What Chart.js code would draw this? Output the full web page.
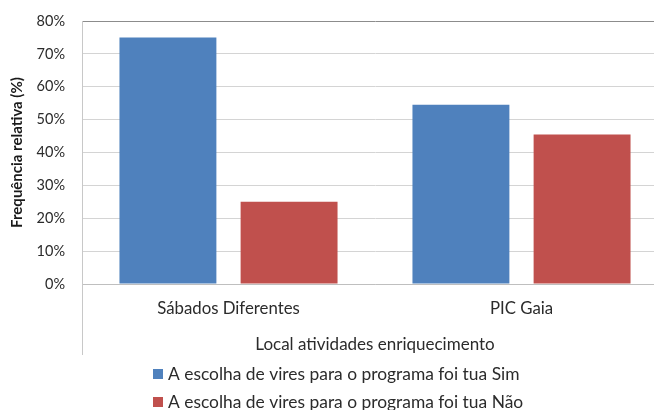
<!DOCTYPE html>
<html>
<head>
<meta charset="utf-8">
<script src="https://cdn.jsdelivr.net/npm/chart.js@4"></script>
<style>
  html, body { margin: 0; padding: 0; background: #fff; overflow: hidden; }
  #wrap { width: 668px; height: 410px; }
</style>
</head>
<body>
<div id="wrap"><canvas id="c" width="668" height="410"></canvas></div>
<script>
const categories = ["Sábados Diferentes", "PIC Gaia"];
const seriesSim = [75, 54.5];
const seriesNao = [25, 45.5];
const seriesLabels = ["A escolha de vires para o programa foi tua Sim", "A escolha de vires para o programa foi tua Não"];
const yTicksMax = 80;
const yTickStep = 10;
const xTitle = "Local atividades enriquecimento";
const yTitle = "Frequência relativa (%)";

const FONT = "Lato, 'Open Sans', sans-serif";

const extras = {
  id: 'extras',
  afterDraw(chart) {
    const ctx = chart.ctx;
    const ca = chart.chartArea;
    ctx.save();
    // extended left axis line (category axis area)
    ctx.strokeStyle = '#c8c8c8';
    ctx.lineWidth = 1;
    ctx.beginPath();
    ctx.moveTo(Math.round(ca.left) + 0.5, ca.bottom);
    ctx.lineTo(Math.round(ca.left) + 0.5, 355);
    ctx.stroke();
    // x axis title (centred on the plot area)
    ctx.fillStyle = '#2b2b2b';
    ctx.font = "17px " + FONT;
    ctx.textAlign = 'center';
    ctx.textBaseline = 'middle';
    ctx.fillText(xTitle, (ca.left + ca.right) / 2, 345);
    // legend
    ctx.textAlign = 'left';
    ctx.font = "17.4px " + FONT;
    chart.data.datasets.forEach((ds, i) => {
      const y = 374 + i * 28;
      ctx.fillStyle = ds.backgroundColor;
      ctx.fillRect(153, y - 5, 10, 10);
      ctx.fillStyle = '#2b2b2b';
      ctx.fillText(ds.label, 168, y);
    });
    ctx.restore();
  }
};

new Chart(document.getElementById('c'), {
  type: 'bar',
  data: {
    labels: categories,
    datasets: [
      { label: seriesLabels[0], data: seriesSim, backgroundColor: '#4F81BD' },
      { label: seriesLabels[1], data: seriesNao, backgroundColor: '#C0504D' }
    ]
  },
  plugins: [extras],
  options: {
    responsive: false,
    animation: false,
    layout: { autoPadding: false, padding: { top: 21, right: 0, left: 0, bottom: 0 } },
    datasets: { bar: { categoryPercentage: 0.827, barPercentage: 0.8 } },
    plugins: {
      legend: { display: false },
      tooltip: { enabled: false }
    },
    scales: {
      x: {
        grid: { display: false, drawTicks: false },
        border: { color: '#bfbfbf' },
        ticks: { color: '#2b2b2b', font: { family: FONT, size: 16.8 }, padding: 15 },
        afterFit(scale) { scale.height = 126; }
      },
      y: {
        min: 0,
        max: yTicksMax,
        grid: {
          drawTicks: false,
          color: (c) => (c.tick && c.tick.value === yTicksMax) ? '#8c8c8c' : '#d4d4d4'
        },
        border: { color: '#c8c8c8' },
        ticks: {
          stepSize: yTickStep,
          color: '#2b2b2b',
          padding: 17,
          font: { family: FONT, size: 14.5, lineHeight: 0.5 },
          callback: (v) => v + '%'
        },
        title: {
          display: true,
          text: yTitle,
          color: '#1a1a1a',
          font: { family: FONT, size: 15, weight: 'bold' },
          padding: { top: 8, bottom: 0 }
        },
        afterFit(scale) { scale.width = 82; }
      }
    }
  }
});
</script>
</body>
</html>
